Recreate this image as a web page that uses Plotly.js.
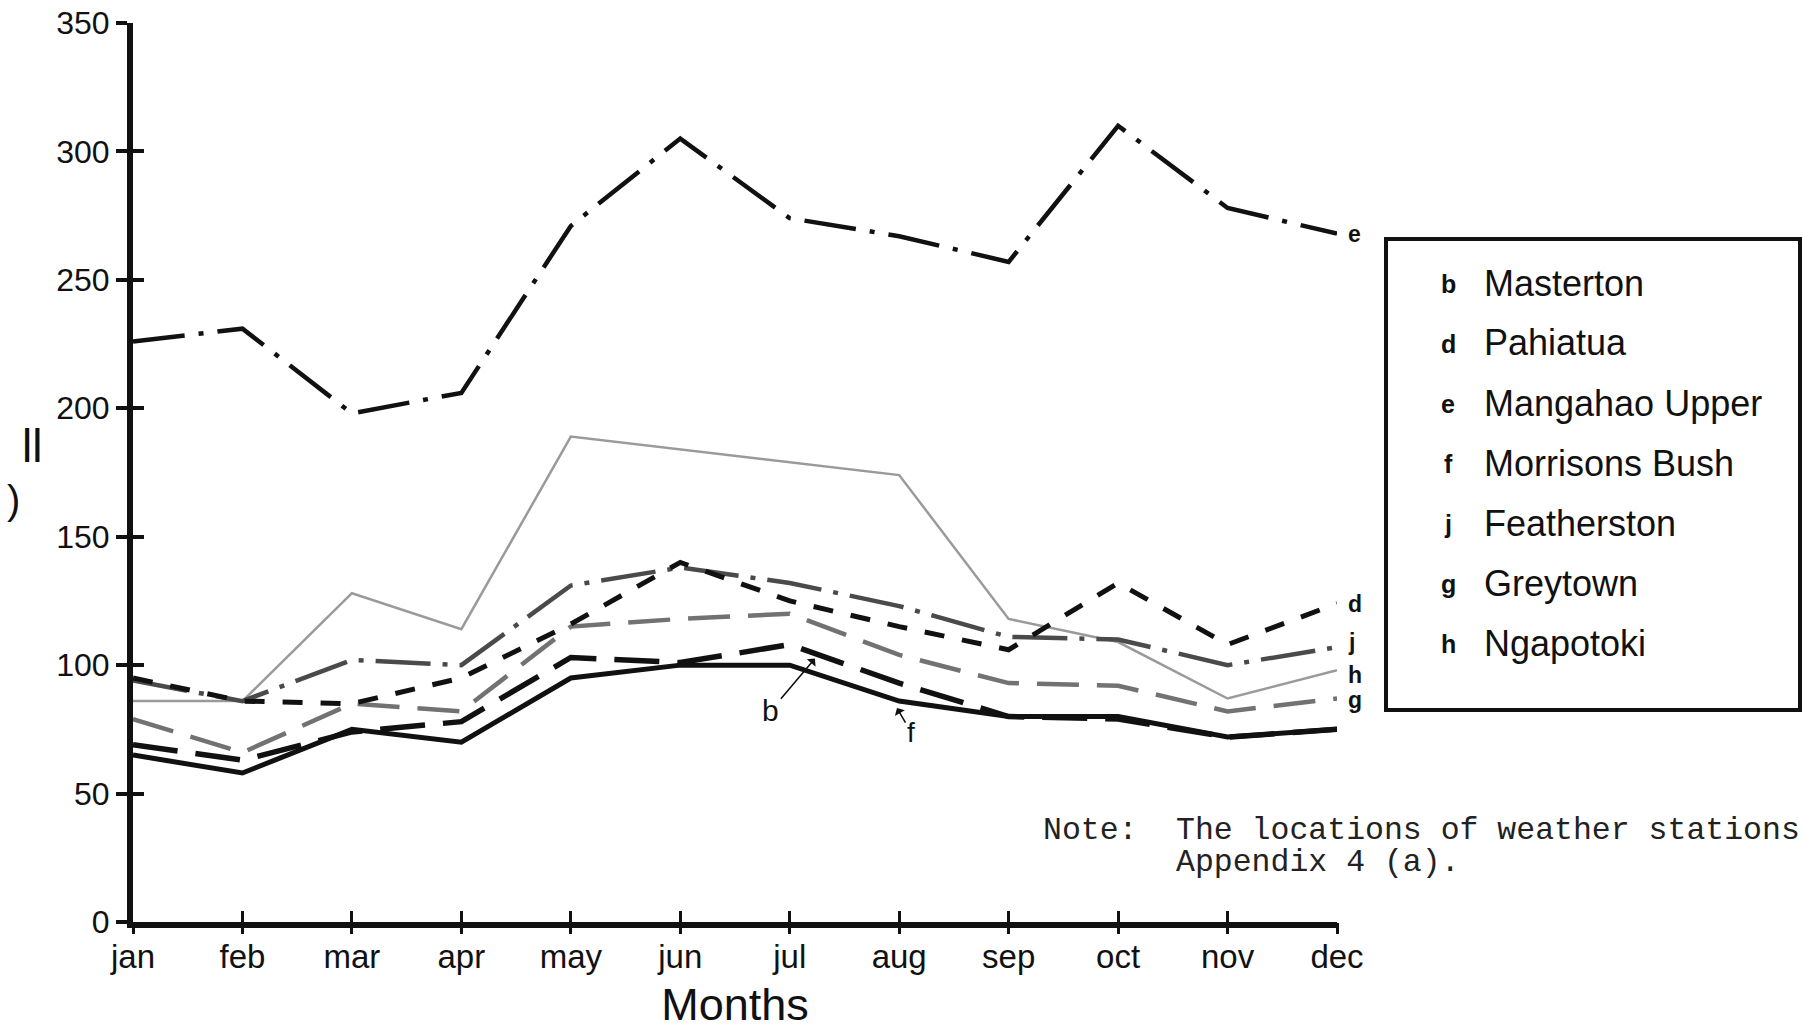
<!DOCTYPE html>
<html>
<head>
<meta charset="utf-8">
<script src="https://cdn.plot.ly/plotly-3.0.1.min.js"></script>
<style>
  html, body { margin: 0; padding: 0; background: #fff; }
  #chart { width: 1803px; height: 1030px; }
</style>
</head>
<body>
<div id="chart"></div>
<script>
// ---- data (monthly rainfall, mm) ----
const months = ['jan','feb','mar','apr','may','jun','jul','aug','sep','oct','nov','dec'];
const masterton     = [69, 63, 74, 78, 103, 101, 108, 93, 80, 79, 72, 75];   // b
const pahiatua      = [95, 86, 85, 95, 116, 140, 125, 115, 106, 132, 108, 124]; // d
const mangahaoUpper = [226, 231, 198, 206, 271, 305, 274, 267, 257, 310, 278, 268]; // e
const morrisonsBush = [65, 58, 75, 70, 95, 100, 100, 86, 80, 80, 72, 75];    // f
const featherston   = [94, 86, 102, 100, 131, 138, 132, 123, 111, 110, 100, 107]; // j
const greytown      = [79, 66, 85, 82, 115, 118, 120, 104, 93, 92, 82, 87];   // g
const ngapotoki     = [86, 86, 128, 114, 189, 184, 179, 174, 118, 109, 87, 98]; // h

const stationCodes = ['b','d','e','f','j','g','h'];
const stationNames = ['Masterton','Pahiatua','Mangahao Upper','Morrisons Bush','Featherston','Greytown','Ngapotoki'];
const yTicks = [0, 50, 100, 150, 200, 250, 300, 350];

const monthIdx = months.map((m, i) => i);
const last = months.length - 1;

const SANS = 'Liberation Sans, Arial, Helvetica, sans-serif';
const MONO = 'Liberation Mono, Courier New, monospace';
const INK = '#111';

function line(y, color, width, dash) {
  return { x: monthIdx, y: y, mode: 'lines', showlegend: false, hoverinfo: 'skip',
           line: { color: color, width: width, dash: dash } };
}

const traces = [
  line(ngapotoki, '#9a9a9a', 2.5, 'solid'),
  line(greytown, '#727272', 4.5, '42px,18px'),
  line(featherston, '#4a4a4a', 4.5, '55px,12px,5px,12px'),
  line(mangahaoUpper, INK, 4.5, '52px,14px,5px,14px'),
  line(pahiatua, INK, 5, '20px,18px'),
  line(masterton, INK, 5.5, '45px,18px'),
  line(morrisonsBush, INK, 5, 'solid'),
  // carrier for the second (tick-only) axis pair so the ticks cross the axis lines
  { x: monthIdx, y: ngapotoki, xaxis: 'x2', yaxis: 'y2', mode: 'lines', showlegend: false,
    hoverinfo: 'skip', line: { color: 'rgba(0,0,0,0)', width: 0 } }
];

// ---- layout geometry helpers (pixels -> paper) ----
const W = 1803, H = 1030;
const M = { l: 133, r: 466, t: 23, b: 108 };
const PW = W - M.l - M.r, PH = H - M.t - M.b;
const px = v => (v - M.l) / PW;
const py = v => (H - M.b - v) / PH;

const annotations = [];

// end-of-line letters (small vertical nudges keep close ones apart, as in the source)
const endLabels = [
  ['e', mangahaoUpper, 0], ['d', pahiatua, 0], ['j', featherston, 5], ['h', ngapotoki, -5], ['g', greytown, -1]
];
endLabels.forEach(([c, s, dy]) => {
  annotations.push({ x: last, y: s[last], xref: 'x', yref: 'y', text: c, showarrow: false,
    xanchor: 'left', yanchor: 'middle', xshift: 9, yshift: dy,
    font: { family: SANS, size: 23, color: INK, weight: 'bold' } });
});

// b and f pointer labels (tips on the lines between jul and aug)
const tB = 0.23, tF = 0.98;
annotations.push({ x: 6 + tB, y: masterton[6] + tB * (masterton[7] - masterton[6]) - 2, xref: 'x', yref: 'y',
  text: 'b', showarrow: true, arrowhead: 1, arrowsize: 1.2, arrowwidth: 1.6, arrowcolor: INK,
  ax: -44, ay: 52, font: { family: SANS, size: 30, color: INK } });
annotations.push({ x: 6 + tF, y: morrisonsBush[6] + tF * (morrisonsBush[7] - morrisonsBush[6]) - 3, xref: 'x', yref: 'y',
  text: 'f', showarrow: true, arrowhead: 1, arrowsize: 1.2, arrowwidth: 1.6, arrowcolor: INK,
  ax: 14, ay: 24, font: { family: SANS, size: 28, color: INK } });

// legend box entries
const legTop = 283, legStep = 60;
stationNames.forEach((n, i) => {
  const yy = py(legTop + i * legStep);
  annotations.push({ x: px(1448), y: yy, xref: 'paper', yref: 'paper', text: stationCodes[i],
    showarrow: false, xanchor: 'center', yanchor: 'middle', yshift: -1,
    font: { family: SANS, size: 25, color: INK, weight: 'bold' } });
  annotations.push({ x: px(1482), y: yy, xref: 'paper', yref: 'paper', text: n,
    showarrow: false, xanchor: 'left', yanchor: 'middle',
    font: { family: SANS, size: 36, color: INK } });
});

// y-axis title: only the tail of the words survives at the page edge in the source
annotations.push({ x: px(44), y: py(446), xref: 'paper', yref: 'paper', text: 'll',
  showarrow: false, xanchor: 'right', yanchor: 'middle', font: { family: SANS, size: 46, color: INK } });
annotations.push({ x: px(22), y: py(500), xref: 'paper', yref: 'paper', text: ')',
  showarrow: false, xanchor: 'right', yanchor: 'middle', font: { family: SANS, size: 40, color: INK } });

// note
const NOTEF = { family: MONO, size: 31.5, color: '#222' };
annotations.push({ x: px(1041), y: py(830), xref: 'paper', yref: 'paper', text: 'Note:',
  showarrow: false, xanchor: 'left', yanchor: 'middle', font: NOTEF });
annotations.push({ x: px(1174), y: py(830), xref: 'paper', yref: 'paper', text: 'The locations of weather stations',
  showarrow: false, xanchor: 'left', yanchor: 'middle', font: NOTEF });
annotations.push({ x: px(1174), y: py(862), xref: 'paper', yref: 'paper', text: 'Appendix 4 (a).',
  showarrow: false, xanchor: 'left', yanchor: 'middle', font: NOTEF });

const shapes = [
  { type: 'rect', xref: 'paper', yref: 'paper', x0: px(1386), x1: px(1800), y0: py(710), y1: py(239),
    line: { color: INK, width: 4 }, fillcolor: 'rgba(0,0,0,0)' }
];

const layout = {
  width: W, height: H,
  margin: M,
  paper_bgcolor: '#fff', plot_bgcolor: '#fff',
  showlegend: false,
  xaxis: {
    range: [0, last], tickmode: 'array', tickvals: monthIdx, ticktext: months,
    ticks: 'inside', ticklen: 11, tickwidth: 3, tickcolor: INK,
    showline: true, linewidth: 6, linecolor: INK, showgrid: false, zeroline: false,
    tickfont: { family: SANS, size: 33, color: INK }, ticklabeloverflow: 'allow',
    title: { text: 'Months', font: { family: SANS, size: 45, color: INK }, standoff: 17 },
    fixedrange: true
  },
  yaxis: {
    range: [0, 350], tickmode: 'array', tickvals: yTicks,
    ticks: 'outside', ticklen: 11, tickwidth: 4, tickcolor: INK,
    showline: true, linewidth: 6, linecolor: INK, showgrid: false, zeroline: false,
    tickfont: { family: SANS, size: 32, color: INK }, ticklabeloverflow: 'allow', fixedrange: true
  },
  xaxis2: {
    overlaying: 'x', anchor: 'y2', side: 'bottom', range: [0, last], tickmode: 'array', tickvals: monthIdx,
    ticks: 'outside', ticklen: 11, tickwidth: 3, tickcolor: INK, showticklabels: false,
    showline: false, showgrid: false, zeroline: false, fixedrange: true
  },
  yaxis2: {
    overlaying: 'y', anchor: 'x2', side: 'left', range: [0, 350], tickmode: 'array', tickvals: yTicks,
    ticks: 'inside', ticklen: 11, tickwidth: 4, tickcolor: INK, showticklabels: false,
    showline: false, showgrid: false, zeroline: false, fixedrange: true
  },
  annotations: annotations,
  shapes: shapes
};

Plotly.newPlot('chart', traces, layout, { displayModeBar: false, staticPlot: true });
</script>
</body>
</html>
